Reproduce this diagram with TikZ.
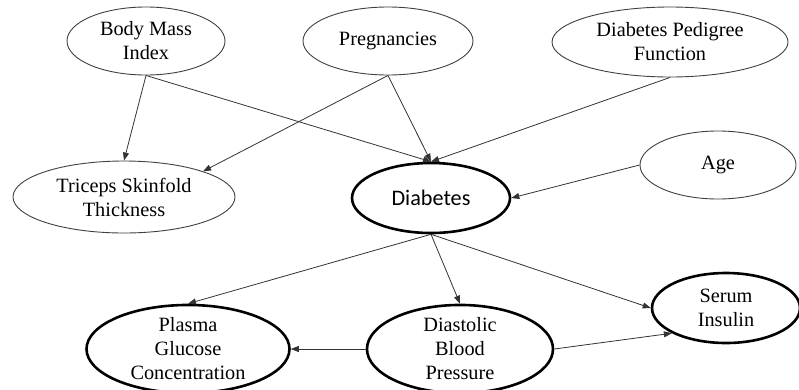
\documentclass[tikz,border=0pt]{standalone}
\usepackage{fontspec}
\setmainfont{Liberation Serif}
\newfontfamily\labelsans{Carlito}
\usetikzlibrary{shapes.geometric,arrows.meta}
\begin{document}
\begin{tikzpicture}[x=1pt,y=-1pt,
  var/.style={ellipse, draw=black!75, line width=0.9pt, inner sep=0pt,
    align=center, font=\fontsize{20.3}{24}\selectfont},
  key/.style={var, draw=black, line width=2.6pt},
  link/.style={draw=black!80, line width=0.8pt,
    -{Triangle[length=8pt,width=6pt]}}]
\useasboundingbox (0,0) rectangle (799,389);

% observed inputs
\node[var, minimum width=158pt, minimum height=68pt] (bmi)  at (146,41)  {Body Mass\\Index};
\node[var, minimum width=170pt, minimum height=68pt] (preg) at (388,41)  {Pregnancies};
\node[var, minimum width=236pt, minimum height=70pt] (dpf)  at (670,42)  {Diabetes Pedigree\\Function};
\node[var, minimum width=156pt, minimum height=68pt] (age)  at (718,165) {Age};
\node[var, minimum width=222pt, minimum height=72pt] (tri)  at (124,197) {Triceps Skinfold\\Thickness};

% central and key variables
\node[key, minimum width=158pt, minimum height=70pt, font=\labelsans\fontsize{22.2}{26}\selectfont] (dia) at (431,198) {Diabetes};
\node[key, minimum width=203pt, minimum height=84pt] (pla) at (188,349) {Plasma\\Glucose\\Concentration};
\node[key, minimum width=186pt, minimum height=84pt] (dbp) at (460,349) {Diastolic\\Blood\\Pressure};
\node[key, minimum width=148pt, minimum height=70pt] (ser) at (726,308) {Serum\\Insulin};

% dependencies
\draw[link] (bmi.south)  -- (tri.north);
\draw[link] (bmi.south)  -- (dia.north);
\draw[link] (preg.south) -- (tri.18);
\draw[link] (preg.south) -- (dia.north);
\draw[link] (dpf.south)  -- (dia.north);
\draw[link] (age.west)   -- (dia.east);
\draw[link] (dia.south)  -- (pla.north);
\draw[link] (dia.south)  -- (dbp.north);
\draw[link] (dia.south)  -- (ser.west);
\draw[link] (dbp.east)   -- (ser.205);
\draw[link] (dbp.west)   -- (pla.east);
\end{tikzpicture}
\end{document}
